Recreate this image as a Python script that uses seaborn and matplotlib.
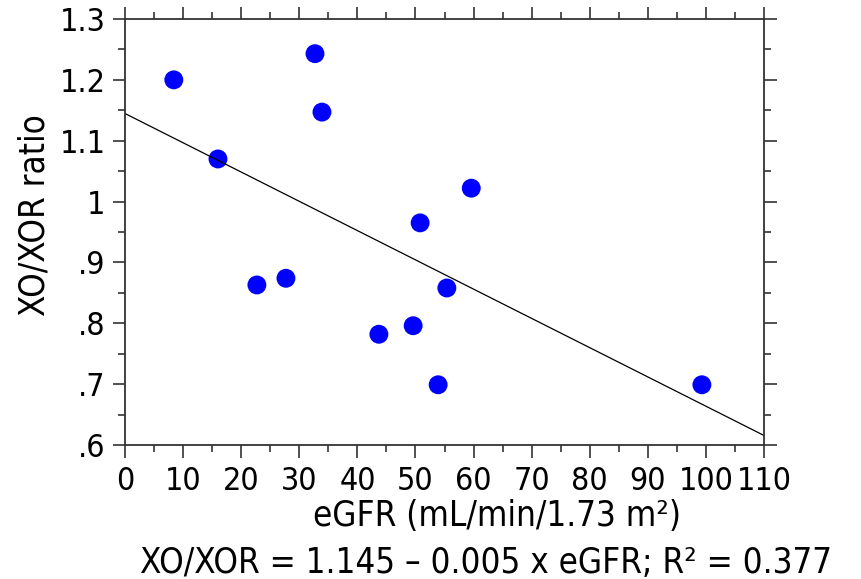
import numpy as np
import pandas as pd
import seaborn as sns
import matplotlib
matplotlib.use("Agg")
import matplotlib.pyplot as plt
from matplotlib.ticker import MultipleLocator

# values
egfr = [8.4, 16.0, 22.7, 27.7, 32.7, 33.9, 43.7, 49.6, 50.8, 55.4, 53.9, 59.6, 99.3]
xo_ratio = [1.200, 1.070, 0.863, 0.874, 1.243, 1.147, 0.782, 0.796, 0.965, 0.858, 0.699, 1.022, 0.699]
x_ticks = [0, 10, 20, 30, 40, 50, 60, 70, 80, 90, 100, 110]
y_ticks = [0.6, 0.7, 0.8, 0.9, 1.0, 1.1, 1.2, 1.3]
y_tick_labels = [".6", ".7", ".8", ".9", "1", "1.1", "1.2", "1.3"]

df = pd.DataFrame({"eGFR": egfr, "ratio": xo_ratio})

sns.set_style("ticks")
plt.rcParams['font.family'] = ['DejaVu Sans']
plt.rcParams['font.stretch'] = 'condensed'
plt.rcParams['text.color'] = 'black'
plt.rcParams['axes.labelcolor'] = 'black'
plt.rcParams['xtick.labelcolor'] = 'black'
plt.rcParams['ytick.labelcolor'] = 'black'

fig = plt.figure(figsize=(8.61, 5.79), dpi=100)
ax = fig.add_axes([0.1452, 0.2314, 0.7422, 0.7358])
ax.set_xlim(0, 110)
ax.set_ylim(0.6, 1.3)

sns.regplot(data=df, x="eGFR", y="ratio", ax=ax, ci=None, truncate=False,
            scatter_kws={"s": 185, "color": "#0000ff", "edgecolor": "none", "alpha": 1},
            line_kws={"color": "black", "lw": 0.9})

ax.set_xticks(x_ticks)
ax.set_yticks(y_ticks)
ax.set_yticklabels(y_tick_labels)
ax.xaxis.set_minor_locator(MultipleLocator(5))
ax.yaxis.set_minor_locator(MultipleLocator(0.05))
ax.tick_params(which="both", direction="out", top=True, right=True, width=1.2, color="#333333")
ax.tick_params(which="major", length=9, labelsize=23, pad=5)
ax.tick_params(axis="x", which="major", pad=6)
ax.tick_params(which="minor", length=5)
for s in ax.spines.values():
    s.set_visible(True)
    s.set_linewidth(1.3)
    s.set_color("#333333")

ax.set_xlabel("")
ax.set_ylabel("")
fig.text(35 / 861, 1 - 215 / 579, "XO/XOR ratio", rotation=90, ha="center", va="center", fontsize=25)
fig.text(497 / 861, 0.091, "eGFR (mL/min/1.73 m\u00b2)", ha="center", va="baseline", fontsize=25)
fig.text(486 / 861, 0.011, "XO/XOR = 1.145 \u2013 0.005 x eGFR; R\u00b2 = 0.377", ha="center", va="baseline", fontsize=25)

fig.savefig("out.png", dpi=100)
